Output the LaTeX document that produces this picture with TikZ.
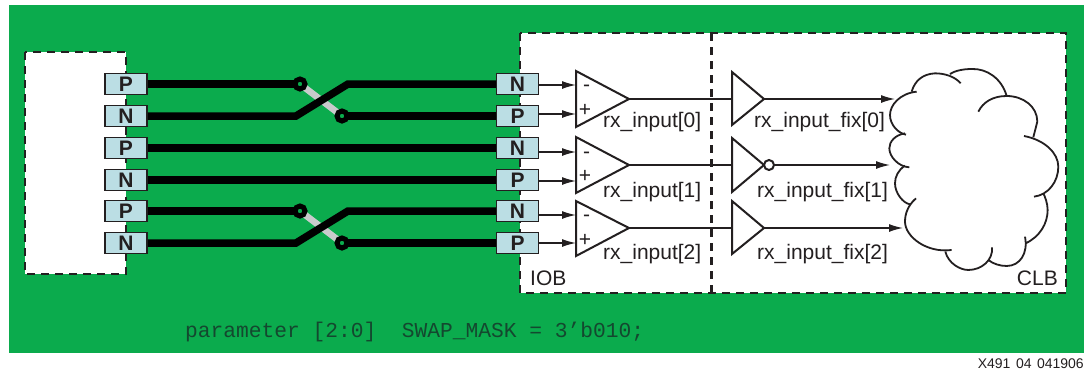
\documentclass[tikz,border=0pt]{standalone}
\usepackage{fontspec}
\setmainfont{Liberation Sans}
\setmonofont{Liberation Mono}
\usetikzlibrary{arrows.meta}
\definecolor{boardgreen}{HTML}{0BAB4D}
\definecolor{pinblue}{HTML}{BBDEE4}
\definecolor{inkgray}{HTML}{231F20}
\definecolor{swapgray}{HTML}{C9CBCC}
\definecolor{codegreen}{HTML}{14482F}
\tikzset{
  pinbox/.style={draw=inkgray, fill=pinblue, line width=1.5pt, minimum width=42pt, minimum height=21pt, inner sep=0pt, text=inkgray, font=\fontsize{21}{21}\selectfont\bfseries},
  wire/.style={line width=7.5pt, black},
  swapwire/.style={line width=6.5pt, swapgray},
  swapdot/.style={circle, draw=black, fill=boardgreen, line width=5pt, minimum size=10pt, inner sep=0pt},
  region/.style={draw=inkgray, fill=white, line width=2.2pt, dash pattern=on 8pt off 6pt},
  gate/.style={draw=inkgray, line width=2pt, line join=miter},
  signal/.style={draw=inkgray, line width=1.4pt, -{Latex[length=14pt,width=8pt]}},
  plainsignal/.style={draw=inkgray, line width=1.4pt},
  cloudline/.style={draw=inkgray, line width=1.8pt},
  label/.style={anchor=base west, inner sep=0pt, text=inkgray, font=\fontsize{21}{21}\selectfont},
  sign/.style={inner sep=0pt, text=inkgray, font=\fontsize{21}{21}\selectfont},
  bubble/.style={circle, draw=inkgray, fill=white, line width=2pt, minimum size=10pt, inner sep=0pt}
}
\begin{document}
\begin{tikzpicture}[x=1pt,y=-1pt]
  \useasboundingbox (0,0) rectangle (1090,370);
  \fill[boardgreen] (9,5) rectangle (1084,353);
  \draw[region] (25,52) rectangle (126,274);
  \draw[region] (520,33) rectangle (1066,293);
  \draw[inkgray, line width=3pt, dash pattern=on 8pt off 6pt] (711,33) -- (711,293);

  \node[pinbox] (lpa) at (126,84) {P};
  \node[pinbox] (lna) at (126,116) {N};
  \node[pinbox] (lpb) at (126,148) {P};
  \node[pinbox] (lnb) at (126,180) {N};
  \node[pinbox] (lpc) at (126,211) {P};
  \node[pinbox] (lnc) at (126,243) {N};
  \node[pinbox] (rna) at (517.5,84) {N};
  \node[pinbox] (rpa) at (517.5,116) {P};
  \node[pinbox] (rnb) at (517.5,148) {N};
  \node[pinbox] (rpb) at (517.5,180) {P};
  \node[pinbox] (rnc) at (517.5,211) {N};
  \node[pinbox] (rpc) at (517.5,243) {P};

  \coordinate (swapa) at (300,84);
  \coordinate (swapb) at (342,116);
  \coordinate (swapc) at (300,211);
  \coordinate (swapd) at (342,243);
  \draw[swapwire] (swapa) -- (swapb);
  \draw[swapwire] (swapc) -- (swapd);
  \draw[wire] (lpa) -- (swapa);
  \draw[wire] (swapb) -- (rpa);
  \draw[wire] (lna) -- (296,116) -- (348,84) -- (rna);
  \draw[wire] (lpb) -- (rnb);
  \draw[wire] (lnb) -- (rpb);
  \draw[wire] (lpc) -- (swapc);
  \draw[wire] (swapd) -- (rpc);
  \draw[wire] (lnc) -- (296,243) -- (348,211) -- (rnc);
  \node[swapdot] (dota) at (swapa) {};
  \node[swapdot] (dotb) at (swapb) {};
  \node[swapdot] (dotc) at (swapc) {};
  \node[swapdot] (dotd) at (swapd) {};

  \coordinate (ampa) at (629,99);
  \coordinate (ampb) at (629,165);
  \coordinate (ampc) at (629,228);
  \coordinate (bufa) at (764,99);
  \coordinate (bufb) at (764,165);
  \coordinate (bufc) at (764,228);
  \draw[gate] (ampa) -- ++(-53,-28) -- ++(0,56) -- cycle;
  \draw[gate] (ampb) -- ++(-53,-28) -- ++(0,56) -- cycle;
  \draw[gate] (ampc) -- ++(-53,-27) -- ++(0,55) -- cycle;
  \draw[gate] (bufa) -- ++(-32,-27) -- ++(0,53) -- cycle;
  \draw[gate] (bufb) -- ++(-32,-27) -- ++(0,54) -- cycle;
  \draw[gate] (bufc) -- ++(-32,-27) -- ++(0,53) -- cycle;
  \node[bubble] (bubb) at (769,165) {};

  \coordinate (ampam) at (576,85);
  \coordinate (ampap) at (576,114);
  \coordinate (ampbm) at (576,152);
  \coordinate (ampbp) at (576,181);
  \coordinate (ampcm) at (576,215);
  \coordinate (ampcp) at (576,243);
  \coordinate (bufain) at (732,99);
  \coordinate (bufbin) at (732,165);
  \coordinate (bufcin) at (732,228);
  \coordinate (clouda) at (895,99);
  \coordinate (cloudb) at (890,165);
  \coordinate (cloudc) at (903,228);

  \draw[signal] (rna.east |- ampam) -- (ampam);
  \draw[signal] (rpa.east |- ampap) -- (ampap);
  \draw[signal] (rnb.east |- ampbm) -- (ampbm);
  \draw[signal] (rpb.east |- ampbp) -- (ampbp);
  \draw[signal] (rnc.east |- ampcm) -- (ampcm);
  \draw[signal] (rpc.east |- ampcp) -- (ampcp);
  \draw[plainsignal] (ampa) -- (bufain);
  \draw[plainsignal] (ampb) -- (bufbin);
  \draw[plainsignal] (ampc) -- (bufcin);
  \draw[signal] (bufa) -- (clouda);
  \draw[signal] (bubb) -- (cloudb);
  \draw[signal] (bufc) -- (cloudc);

  \node[sign] (mina) at (586.5,88) {-};
  \node[sign] (plua) at (585,110) {+};
  \node[sign] (minb) at (586.5,155) {-};
  \node[sign] (plub) at (585,176) {+};
  \node[sign] (minc) at (586.5,218) {-};
  \node[sign] (pluc) at (585,240) {+};

  \node[label] (rxa) at (603,127) {rx\_input[0]};
  \node[label] (rxb) at (603,197) {rx\_input[1]};
  \node[label] (rxc) at (603,259) {rx\_input[2]};
  \node[label] (fixa) at (754,127) {rx\_input\_fix[0]};
  \node[label] (fixb) at (757,197) {rx\_input\_fix[1]};
  \node[label] (fixc) at (757,259) {rx\_input\_fix[2]};
  \node[label] (iob) at (530,285) {IOB};
  \node[label, anchor=base east] (clb) at (1058,285) {CLB};

  \begin{scope}[shift={(860,50)}, x=0.3333pt, y=-0.3333pt]
    \draw[cloudline] (170,125) .. controls (120,130) and (90,165) .. (90,195) .. controls (90,225) and (115,250) .. (138,254);
    \draw[cloudline] (135,250) .. controls (105,255) and (88,275) .. (88,295) .. controls (88,320) and (115,350) .. (148,352);
    \draw[cloudline] (135,347) .. controls (115,360) and (105,380) .. (105,400) .. controls (105,430) and (130,460) .. (150,463);
    \draw[cloudline] (168,445) .. controls (145,465) and (135,490) .. (135,515) .. controls (135,560) and (200,610) .. (275,600);
    \draw[cloudline] (256,605) .. controls (265,640) and (300,660) .. (325,660) .. controls (365,660) and (400,630) .. (396,592);
    \draw[cloudline] (385,630) .. controls (400,642) and (420,648) .. (440,648) .. controls (480,648) and (505,610) .. (495,560);
    \draw[cloudline] (497,580) .. controls (540,560) and (563,520) .. (563,480) .. controls (563,460) and (555,440) .. (550,430);
    \draw[cloudline] (522,440) .. controls (565,435) and (595,395) .. (595,350) .. controls (595,310) and (555,270) .. (492,258);
    \draw[cloudline] (520,262) -- (532,215) .. controls (532,170) and (490,138) .. (440,138) .. controls (400,138) and (370,155) .. (355,185);
    \draw[cloudline] (440,138) .. controls (425,85) and (380,55) .. (335,57) .. controls (310,57) and (285,62) .. (270,72);
    \draw[cloudline] (302,100) .. controls (285,80) and (255,70) .. (225,70) .. controls (190,72) and (165,90) .. (155,125);
  \end{scope}

  \node[anchor=base west, inner sep=0pt, text=codegreen, font=\fontsize{21.25}{21.25}\selectfont\ttfamily] (swapmask) at (185,337) {parameter [2:0]\ \ SWAP\_MASK = 3’b010;};
  \node[anchor=base east, inner sep=0pt, text=inkgray, font=\fontsize{14}{14}\selectfont] (figid) at (1084,368) {X491\hspace{5.5pt}04\hspace{5.5pt}041906};
\end{tikzpicture}
\end{document}
